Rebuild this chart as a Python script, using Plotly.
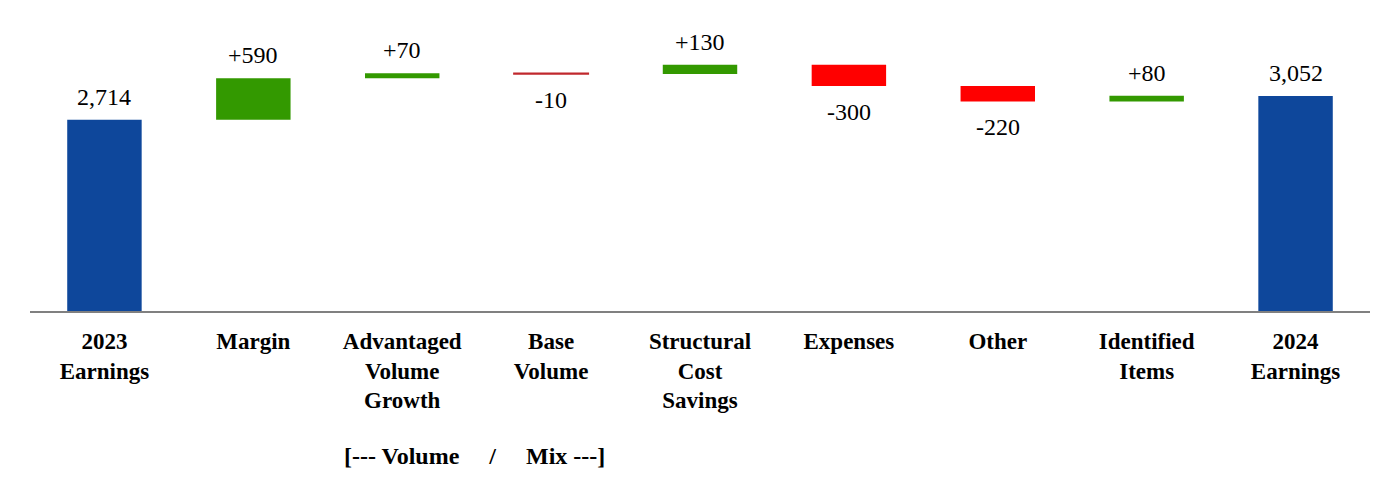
import plotly.graph_objects as go

categories = ["<b>2023<br>Earnings</b>", "<b>Margin</b>", "<b>Advantaged<br>Volume<br>Growth</b>",
              "<b>Base<br>Volume</b>", "<b>Structural<br>Cost<br>Savings</b>", "<b>Expenses</b>",
              "<b>Other</b>", "<b>Identified<br>Items</b>", "<b>2024<br>Earnings</b>"]
values = [2714, 590, 70, -10, 130, -300, -220, 80, 3052]
kinds = ["total", "delta", "delta", "delta", "delta", "delta", "delta", "delta", "total"]
labels = ["2,714", "+590", "+70", "-10", "+130", "-300", "-220", "+80", "3,052"]
colors = ["#0e479b", "#339900", "#339900", "#c0282d", "#339900", "#ff0000", "#ff0000", "#339900", "#0e479b"]
outline_widths = [0, 0, 0, 1.5, 0, 0, 0, 0, 0]

SERIF = "Liberation Serif, Times New Roman, serif"

bases, heights, running = [], [], 0
for v, k in zip(values, kinds):
    if k == "total":
        bases.append(0); heights.append(v); running = v
    else:
        bases.append(running); heights.append(v); running += v

x = list(range(len(categories)))
fig = go.Figure()
fig.add_trace(go.Bar(
    x=x, y=heights, base=bases, width=0.5,
    marker=dict(color=colors, line=dict(width=outline_widths, color=colors)),
    hoverinfo="skip",
))
for xi, b, h, lab in zip(x, bases, heights, labels):
    if h >= 0:
        fig.add_annotation(x=xi, y=b + h, text=lab, showarrow=False, yanchor="middle",
                           yshift=23, font=dict(family=SERIF, size=24, color="black"))
    else:
        fig.add_annotation(x=xi, y=b + h, text=lab, showarrow=False, yanchor="middle",
                           yshift=-26, font=dict(family=SERIF, size=24, color="black"))

fig.update_layout(
    width=1400, height=500, template="plotly_white",
    margin=dict(l=22, r=38, t=12, b=197),
    showlegend=False, plot_bgcolor="white", paper_bgcolor="white",
    font=dict(family=SERIF, size=23, color="black"),
)
fig.update_xaxes(tickvals=x, ticktext=categories, range=[-0.5, len(x) - 0.5],
                 showline=True, linecolor="#808080", linewidth=2, showgrid=False,
                 ticks="", ticklabelstandoff=8, tickfont=dict(family=SERIF, size=23, color="black"))
fig.update_yaxes(range=[0, 4130], visible=False, showgrid=False, zeroline=False)
fig.add_annotation(text="<b>[--- Volume\u00a0\u00a0\u00a0\u00a0\u00a0/\u00a0\u00a0\u00a0\u00a0\u00a0Mix ---]</b>",
                   xref="paper", yref="paper", x=(474 - 30) / 1340, y=-(456 - 311) / 291,
                   showarrow=False, xanchor="center", yanchor="middle",
                   font=dict(family=SERIF, size=24, color="black"))
fig.write_html("out.html")
